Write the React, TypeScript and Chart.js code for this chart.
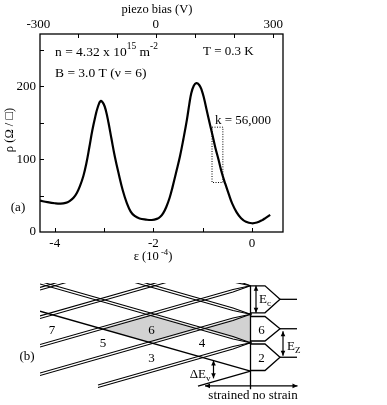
import React, { useEffect, useRef } from "react";
import { Chart, registerables } from "chart.js";

Chart.register(...registerables);

const FONT = '"Liberation Serif", "Times New Roman", "DejaVu Serif", serif';

// ---------------- Panel (a): resistivity vs strain ----------------
const strainA = [-4.30, -4.15, -4.00, -3.88, -3.78, -3.70, -3.62, -3.55, -3.49, -3.42, -3.36, -3.30, -3.24, -3.18, -3.13, -3.07, -3.01, -2.96, -2.91, -2.85, -2.78, -2.70, -2.62, -2.54, -2.46, -2.38, -2.28, -2.15, -2.03, -1.93, -1.86, -1.80, -1.74, -1.67, -1.61, -1.53, -1.46, -1.39, -1.32, -1.27, -1.23, -1.18, -1.13, -1.07, -1.02, -0.97, -0.92, -0.86, -0.80, -0.74, -0.68, -0.61, -0.54, -0.47, -0.40, -0.31, -0.22, -0.12, 0.00, 0.10, 0.20, 0.28, 0.37];
const rhoA = [43, 41, 39.5, 39, 40, 42.5, 47, 54, 63, 77, 94, 116, 139, 158, 171, 180, 176, 166, 150, 128, 103, 79, 57, 40, 28, 22, 18.5, 17, 16.5, 18, 21, 26, 34, 47, 62, 84, 104, 128, 154, 176, 191, 201, 204.5, 202, 195, 183, 168, 150, 133, 115, 100, 81, 66, 52, 39, 27, 19, 14, 12, 13, 16, 19.5, 23.5];
const strainTicks = [-4, -2, 0];
const strainMinor = [-4, -3, -2, -1, 0];
const rhoTicks = [0, 100, 200];
const rhoMinor = [50, 100, 150, 200, 250];
const piezoTicks = [-300, 0, 300];
const piezoMinor = [-200, -100, 0, 100, 200, 300];
const kBoxStrain = [-0.81, -0.59];
const kBoxRho = [68, 144];

// ---------------- Panel (b): level schematic ----------------
const upIntercepts = [10, 8, 6, 4, 2, 0];
const upStarts = [-4.21, -4.21, -4.21, -4.21, -3.05, -1.05];
const upDouble = [true, true, true, true, true, false];
const downIntercepts = [6, 4, 2, 0];
const downDouble = [true, true, true, false];
const shadeU = [-3, -2, -1, 0, 0, -1, -2];
const shadeV = [3, 4, 3, 4, 2, 3, 2];
const hexUpper = [5.99, 3.84, 1.91];
const hexLower = [4.1, 2.12, 0.05];
const nodeU = [0, 0];
const nodeV = [4, 2];
const regionLabels = ["7", "6", "5", "4", "3", "6", "2"];
const regionU = [-3.97, -1.98, -2.95, -0.97, -1.98, 0.22, 0.22];
const regionV = [2.83, 2.83, 1.91, 1.91, 0.88, 2.83, 0.92];
const arrowU1 = [0.11, 0.65, -0.74, -0.91];
const arrowV1 = [5.99, 2.81, 0.76, -1.03];
const arrowU2 = [0.11, 0.65, -0.74, 0.94];
const arrowV2 = [4.1, 1.08, -0.5, -1.03];

type Part = [string, "n" | "sup" | "sub"];

function drawRuns(ctx: CanvasRenderingContext2D, x: number, y: number, parts: Part[], size: number, align: "left" | "center" | "right" = "left") {
  const small = size * 0.7;
  const widths = parts.map(([t, k]) => {
    ctx.font = `${k === "n" ? size : small}px ${FONT}`;
    return ctx.measureText(t).width;
  });
  const total = widths.reduce((s, w) => s + w, 0);
  let cx = align === "left" ? x : align === "center" ? x - total / 2 : x - total;
  ctx.textAlign = "left";
  ctx.textBaseline = "middle";
  parts.forEach(([t, k], i) => {
    ctx.font = `${k === "n" ? size : small}px ${FONT}`;
    const dy = k === "sup" ? -size * 0.38 : k === "sub" ? size * 0.32 : 0;
    ctx.fillText(t, cx, y + dy);
    cx += widths[i];
  });
}

const panelAPlugin = {
  id: "panelA",
  afterDraw(chart: any) {
    const { ctx, chartArea: a, scales } = chart;
    const x = scales.x, y = scales.y, x2 = scales.x2;
    ctx.save();
    ctx.strokeStyle = "#000";
    ctx.fillStyle = "#000";
    ctx.lineWidth = 1.3;
    ctx.strokeRect(a.left, a.top, a.right - a.left, a.bottom - a.top);
    ctx.lineWidth = 1;
    ctx.beginPath();
    strainMinor.forEach((v) => {
      const p = Math.round(x.getPixelForValue(v)) + 0.5;
      ctx.moveTo(p, a.bottom); ctx.lineTo(p, a.bottom - 4);
    });
    rhoMinor.forEach((v) => {
      const p = Math.round(y.getPixelForValue(v)) + 0.5;
      ctx.moveTo(a.left, p); ctx.lineTo(a.left + 4, p);
    });
    piezoMinor.forEach((v) => {
      const p = Math.round(x2.getPixelForValue(v)) + 0.5;
      ctx.moveTo(p, a.top); ctx.lineTo(p, a.top + 4);
    });
    ctx.stroke();

    // dotted box
    ctx.setLineDash([1, 1.5]);
    ctx.lineWidth = 1;
    const bx0 = x.getPixelForValue(kBoxStrain[0]);
    const bx1 = x.getPixelForValue(kBoxStrain[1]);
    const by0 = y.getPixelForValue(kBoxRho[1]);
    const by1 = y.getPixelForValue(kBoxRho[0]);
    ctx.strokeRect(bx0, by0, bx1 - bx0, by1 - by0);
    ctx.setLineDash([]);

    // axis titles
    drawRuns(ctx, 157, 10, [["piezo bias (V)", "n"]], 12.5, "center");
    drawRuns(ctx, 153, 257, [["ε (10", "n"], [" -4", "sup"], [")", "n"]], 12.5, "center");
    ctx.save();
    ctx.translate(10, 130);
    ctx.rotate(-Math.PI / 2);
    drawRuns(ctx, 0, 0, [["ρ (Ω / □)", "n"]], 12.5, "center");
    ctx.restore();

    // annotations
    drawRuns(ctx, 55, 52, [["n = 4.32 x 10", "n"], ["15", "sup"], [" m", "n"], ["-2", "sup"]], 13.5);
    drawRuns(ctx, 203, 52, [["T = 0.3 K", "n"]], 13);
    drawRuns(ctx, 55, 73, [["B = 3.0 T (ν = 6)", "n"]], 13.5);
    drawRuns(ctx, 215, 121, [["k = 56,000", "n"]], 13);
    drawRuns(ctx, 18, 208, [["(a)", "n"]], 13, "center");
    ctx.restore();
  },
};

const panelBPlugin = {
  id: "panelB",
  afterDatasetsDraw(chart: any) {
    const { ctx, scales } = chart;
    const X = (u: number) => scales.x.getPixelForValue(u);
    const Y = (v: number) => scales.y.getPixelForValue(v);
    ctx.save();
    ctx.strokeStyle = "#000";
    ctx.fillStyle = "#000";
    ctx.lineWidth = 1.2;
    const head = (xa: number, ya: number, xb: number, yb: number) => {
      const ang = Math.atan2(yb - ya, xb - xa);
      const L = 5, W = 2.3;
      ctx.beginPath();
      ctx.moveTo(xb, yb);
      ctx.lineTo(xb - L * Math.cos(ang) + W * Math.sin(ang), yb - L * Math.sin(ang) - W * Math.cos(ang));
      ctx.lineTo(xb - L * Math.cos(ang) - W * Math.sin(ang), yb - L * Math.sin(ang) + W * Math.cos(ang));
      ctx.closePath();
      ctx.fill();
    };
    arrowU1.forEach((u1, i) => {
      const x1 = X(u1), y1 = Y(arrowV1[i]), x2 = X(arrowU2[i]), y2 = Y(arrowV2[i]);
      ctx.beginPath();
      ctx.moveTo(x1, y1);
      ctx.lineTo(x2, y2);
      ctx.stroke();
      head(x1, y1, x2, y2);
      head(x2, y2, x1, y1);
    });
    regionLabels.forEach((t, i) => {
      drawRuns(ctx, X(regionU[i]), Y(regionV[i]), [[t, "n"]], 13, "center");
    });
    drawRuns(ctx, X(0.17), Y(5.05), [["E", "n"], ["c", "sub"]], 13);
    drawRuns(ctx, X(0.73), Y(1.75), [["E", "n"], ["Z", "sub"]], 13);
    drawRuns(ctx, X(-0.80), Y(-0.22), [["ΔE", "n"], ["v", "sub"]], 13, "right");
    drawRuns(ctx, X(-0.02), Y(-1.68), [["strained", "n"]], 13, "right");
    drawRuns(ctx, X(0.04), Y(-1.68), [["no strain", "n"]], 13);
    drawRuns(ctx, X(-4.47), Y(1.0), [["(b)", "n"]], 13, "center");
    ctx.restore();
  },
};

const GAP = 0.09;

function lineDs(pts: { x: number; y: number }[], w: number) {
  return { data: pts, borderColor: "#000", borderWidth: w, pointRadius: 0, fill: false, tension: 0 };
}

function addLine(sets: any[], u0: number, u1: number, f: (u: number) => number, dbl: boolean, converge: boolean) {
  if (!dbl) {
    sets.push(lineDs([{ x: u0, y: f(u0) }, { x: u1, y: f(u1) }], 1.3));
    return;
  }
  for (const s of [-1, 1]) {
    const pts = [{ x: u0, y: f(u0) + s * GAP }];
    if (converge) {
      const uc = Math.max(u0, -0.35);
      pts.push({ x: uc, y: f(uc) + s * GAP });
      pts.push({ x: 0, y: f(0) });
    } else {
      pts.push({ x: u1, y: f(u1) + s * GAP });
    }
    sets.push(lineDs(pts, 1.05));
  }
}

function buildPanelB() {
  const sets: any[] = [];
  const vTop = 6.6;
  const uMin = -4.21;
  sets.push({
    data: nodeU.map((u, i) => ({ x: u, y: nodeV[i] })),
    showLine: false, pointStyle: "rect", pointRadius: 1.7,
    pointBackgroundColor: "#000", pointBorderWidth: 0, borderColor: "#000",
  });
  sets.push(lineDs([{ x: 0, y: hexUpper[0] }, { x: 0, y: -1.27 }], 1.3));
  hexUpper.forEach((up, i) => {
    const lo = hexLower[i];
    const mid = (up + lo) / 2;
    sets.push(lineDs([{ x: 0, y: up }, { x: 0.29, y: up }, { x: 0.59, y: mid }, { x: 0.29, y: lo }, { x: 0, y: lo }], 1.3));
    sets.push(lineDs([{ x: 0.59, y: mid }, { x: 0.93, y: mid }], 1.3));
  });
  upIntercepts.forEach((c, i) => {
    const u0 = upStarts[i];
    const u1 = Math.min(0, vTop - c);
    addLine(sets, u0, u1, (u) => u + c, upDouble[i], u1 === 0);
  });
  downIntercepts.forEach((c, i) => {
    const u0 = Math.max(uMin, c - vTop);
    addLine(sets, u0, 0, (u) => -u + c, downDouble[i], true);
  });
  sets.push({
    data: shadeU.map((u, i) => ({ x: u, y: shadeV[i] })),
    borderColor: "rgba(0,0,0,0)", borderWidth: 0, pointRadius: 0,
    backgroundColor: "#d2d2d2", fill: "shape", tension: 0,
  });
  return sets;
}

export default function App() {
  const refA = useRef<HTMLCanvasElement>(null);
  const refB = useRef<HTMLCanvasElement>(null);
  useEffect(() => {
    const tickFont = { family: FONT, size: 13 };
    const chartA = new Chart(refA.current as HTMLCanvasElement, {
      type: "line",
      data: {
        datasets: [{
          data: strainA.map((s, i) => ({ x: s, y: rhoA[i] })),
          borderColor: "#000", borderWidth: 2.2, pointRadius: 0, fill: false,
          tension: 0.4, xAxisID: "x", yAxisID: "y",
        }],
      },
      options: {
        animation: false, responsive: false,
        layout: { padding: { left: 0, right: 104, top: 0, bottom: 0 } },
        plugins: { legend: { display: false }, tooltip: { enabled: false } },
        scales: {
          x: {
            type: "linear", position: "bottom", min: -4.3, max: 0.63,
            grid: { display: false, drawTicks: false }, border: { display: false },
            ticks: { font: tickFont, color: "#000", padding: 4, maxRotation: 0 },
            afterBuildTicks: (s: any) => { s.ticks = strainTicks.map((v) => ({ value: v })); },
            afterFit: (s: any) => { s.height = 38; },
          },
          x2: {
            type: "linear", position: "top", min: -296, max: 325,
            grid: { display: false, drawTicks: false }, border: { display: false },
            ticks: { font: tickFont, color: "#000", padding: 2, maxRotation: 0 },
            afterBuildTicks: (s: any) => { s.ticks = piezoTicks.map((v) => ({ value: v })); },
            afterFit: (s: any) => { s.height = 34; },
          },
          y: {
            type: "linear", position: "left", min: 0, max: 272,
            grid: { display: false, drawTicks: false }, border: { display: false },
            ticks: { font: tickFont, color: "#000", padding: 4 },
            afterBuildTicks: (s: any) => { s.ticks = rhoTicks.map((v) => ({ value: v })); },
            afterFit: (s: any) => { s.width = 40; },
          },
        },
      } as any,
      plugins: [panelAPlugin],
    });
    const chartB = new Chart(refB.current as HTMLCanvasElement, {
      type: "line",
      data: { datasets: buildPanelB() },
      options: {
        animation: false, responsive: false,
        layout: { padding: { left: 40, right: 87, top: 13, bottom: 2 } },
        plugins: { legend: { display: false }, tooltip: { enabled: false } },
        scales: {
          x: { type: "linear", min: -4.21, max: 0.99, display: false },
          y: { type: "linear", min: -2.09, max: 6.19, display: false },
        },
      } as any,
      plugins: [panelBPlugin],
    });
    return () => { chartA.destroy(); chartB.destroy(); };
  }, []);
  return (
    <div style={{ position: "fixed", left: 0, top: 0, width: 387, height: 405, background: "#fff" }}>
      <canvas ref={refA} width={387} height={270} style={{ position: "absolute", left: 0, top: 0, width: 387, height: 270 }} />
      <canvas ref={refB} width={387} height={135} style={{ position: "absolute", left: 0, top: 270, width: 387, height: 135 }} />
    </div>
  );
}
